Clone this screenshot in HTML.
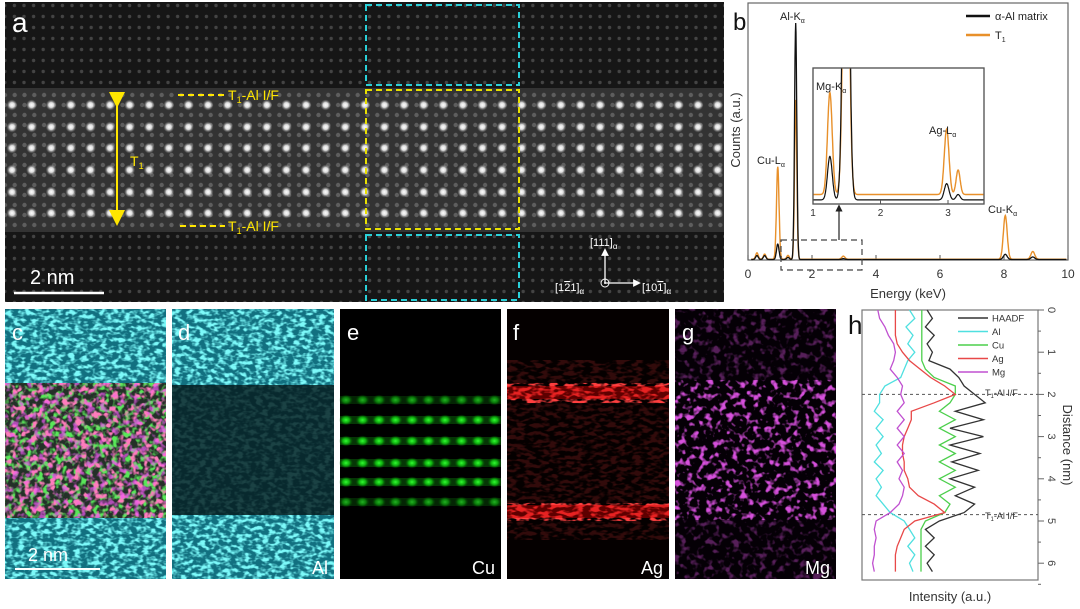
<!DOCTYPE html>
<html><head><meta charset="utf-8"><style>
html,body{margin:0;padding:0;background:#fff}
svg{display:block}
text{font-family:"Liberation Sans",Arial,sans-serif}
</style></head><body>
<svg id="fig" width="1080" height="609" viewBox="0 0 1080 609" xmlns="http://www.w3.org/2000/svg">
<defs>
<radialGradient id="gdot"><stop offset="0" stop-color="#fff"/><stop offset="0.45" stop-color="#eee" stop-opacity="0.9"/><stop offset="1" stop-color="#888" stop-opacity="0"/></radialGradient>
<pattern id="lat" width="9.6" height="11" patternUnits="userSpaceOnUse"><circle cx="4.8" cy="5.5" r="1.7" fill="#444"/></pattern>
<pattern id="dot2" x="0" y="0" width="9.8" height="10" patternUnits="userSpaceOnUse"><circle cx="4.9" cy="5" r="2.2" fill="#7a7a7a"/></pattern>
<radialGradient id="ggr"><stop offset="0" stop-color="#3f3"/><stop offset="0.5" stop-color="#1c1" stop-opacity="0.8"/><stop offset="1" stop-color="#060" stop-opacity="0"/></radialGradient>
<filter id="fc" x="0" y="0" width="1" height="1"><feTurbulence type="fractalNoise" baseFrequency="0.16 0.26" numOctaves="2" seed="3"/><feColorMatrix type="matrix" values="0 0 0 0 0.2  0 0 0 0 0.95  0 0 0 0 0.95  4 0 0 0 -1.7"/></filter>
<filter id="fm" x="0" y="0" width="1" height="1"><feTurbulence type="fractalNoise" baseFrequency="0.15" numOctaves="2" seed="7"/><feColorMatrix type="matrix" values="0 0 0 0 0.85  0 0 0 0 0.1  0 0 0 0 0.9  5 0 0 0 -2.6"/></filter>
<filter id="fr" x="0" y="0" width="1" height="1"><feTurbulence type="fractalNoise" baseFrequency="0.12 0.25" numOctaves="2" seed="11"/><feColorMatrix type="matrix" values="0 0 0 0 1  0 0 0 0 0.05  0 0 0 0 0.05  5 0 0 0 -2.2"/></filter>
<filter id="frc" x="0" y="0" width="1" height="1"><feTurbulence type="fractalNoise" baseFrequency="0.16" numOctaves="2" seed="5"/><feColorMatrix type="matrix" values="0 0 0 0 1  0 0 0 0 0.2  0 0 0 0 0.5  5 0 0 0 -2.5"/></filter>
<filter id="fg" x="0" y="0" width="1" height="1"><feTurbulence type="fractalNoise" baseFrequency="0.16" numOctaves="2" seed="9"/><feColorMatrix type="matrix" values="0 0 0 0 0.1  0 0 0 0 0.8  0 0 0 0 0.1  5 0 0 0 -2.4"/></filter>
<clipPath id="insetclip"><rect x="813" y="68" width="171" height="136"/></clipPath>
<clipPath id="aclip"><rect x="5" y="2" width="719" height="300"/></clipPath>
<marker id="ah" markerWidth="8" markerHeight="8" refX="4" refY="4" orient="auto"><path d="M0,0 L8,4 L0,8 z" fill="#ffe600"/></marker>
<marker id="aw" markerWidth="6" markerHeight="6" refX="3" refY="3" orient="auto"><path d="M0,0 L6,3 L0,6 z" fill="#fff"/></marker>
<marker id="ak" markerWidth="6" markerHeight="6" refX="3" refY="3" orient="auto"><path d="M0,0 L6,3 L0,6 z" fill="#222"/></marker>
</defs>
<rect width="1080" height="609" fill="#fff"/>

<g>
<rect x="5" y="2" width="719" height="300" fill="#161616"/>
<rect x="5" y="2" width="719" height="300" fill="url(#lat)"/>
<rect x="5" y="88" width="719" height="144" fill="#333"/>
<rect x="5" y="88" width="719" height="144" fill="url(#dot2)" opacity="0.6"/>
<g id="arows" clip-path="url(#aclip)"></g>
<text x="12" y="32" font-size="28" fill="#fff">a</text>
<rect x="366" y="5" width="153" height="80" fill="none" stroke="#2ad0d8" stroke-width="2" stroke-dasharray="6,4"/>
<rect x="366" y="90" width="153" height="139" fill="none" stroke="#e8e000" stroke-width="2" stroke-dasharray="6,4"/>
<rect x="366" y="235" width="153" height="65" fill="none" stroke="#2ad0d8" stroke-width="2" stroke-dasharray="6,4"/>
<line x1="117" y1="100" x2="117" y2="218" stroke="#ffe600" stroke-width="2" marker-start="url(#ah)" marker-end="url(#ah)"/>
<text x="130" y="166" font-size="14" fill="#ffe600">T<tspan font-size="9" dy="3">1</tspan></text>
<line x1="178" y1="95" x2="225" y2="95" stroke="#ffe600" stroke-width="2" stroke-dasharray="6,4"/>
<text x="228" y="100" font-size="14" fill="#ffe600">T<tspan font-size="9" dy="3">1</tspan><tspan dy="-3">-Al I/F</tspan></text>
<line x1="180" y1="226" x2="225" y2="226" stroke="#ffe600" stroke-width="2" stroke-dasharray="6,4"/>
<text x="228" y="231" font-size="14" fill="#ffe600">T<tspan font-size="9" dy="3">1</tspan><tspan dy="-3">-Al I/F</tspan></text>
<line x1="14" y1="293" x2="104" y2="293" stroke="#fff" stroke-width="2.5"/>
<text x="30" y="284" font-size="20" fill="#fff">2 nm</text>
<g fill="#fff" font-size="11">
<line x1="605" y1="283" x2="605" y2="252" stroke="#fff" stroke-width="1.3" marker-end="url(#aw)"/>
<line x1="605" y1="283" x2="637" y2="283" stroke="#fff" stroke-width="1.3" marker-end="url(#aw)"/>
<circle cx="605" cy="283" r="4" fill="none" stroke="#fff"/><circle cx="605" cy="283" r="1" fill="#fff"/>
<text x="590" y="246">[111]<tspan font-size="8" dy="3">α</tspan></text>
<text x="555" y="291">[1<tspan text-decoration="overline">2</tspan>1]<tspan font-size="8" dy="3">α</tspan></text>
<text x="642" y="291">[10<tspan text-decoration="overline">1</tspan>]<tspan font-size="8" dy="3">α</tspan></text>
</g>
</g>

<g>
<text x="733" y="30" font-size="24" fill="#111">b</text>
<rect x="748" y="3" width="320" height="257" fill="none" stroke="#666" stroke-width="1.2"/>
<g id="bticks" font-size="12" fill="#333"></g>
<text x="908" y="298" font-size="13" text-anchor="middle" fill="#333">Energy (keV)</text>
<text transform="translate(740,130) rotate(-90)" font-size="13" text-anchor="middle" fill="#333">Counts (a.u.)</text>
<path id="bT1" fill="none" stroke="#e8902a" stroke-width="1.4"/>
<path id="bAl" fill="none" stroke="#111" stroke-width="1.3"/>
<rect x="781" y="240" width="81" height="30" fill="none" stroke="#444" stroke-width="1.2" stroke-dasharray="6,4"/>
<line x1="839" y1="240" x2="839" y2="208" stroke="#222" stroke-width="1.2" marker-end="url(#ak)"/>
<rect x="813" y="68" width="171" height="136" fill="#fff" stroke="#555" stroke-width="1.2"/>
<g clip-path="url(#insetclip)">
<path id="iT1" fill="none" stroke="#e8902a" stroke-width="1.4"/>
<path id="iAl" fill="none" stroke="#111" stroke-width="1.2"/>
</g>
<rect x="813" y="68" width="171" height="136" fill="none" stroke="#555" stroke-width="1.2"/>
<g id="iticks" font-size="10" fill="#333"></g>
<g font-size="11" fill="#222">
<text x="780" y="20">Al-K<tspan font-size="7" dy="3">α</tspan></text>
<text x="757" y="164">Cu-L<tspan font-size="7" dy="3">α</tspan></text>
<text x="816" y="90">Mg-K<tspan font-size="7" dy="3">α</tspan></text>
<text x="929" y="134">Ag-L<tspan font-size="7" dy="3">α</tspan></text>
<text x="988" y="213">Cu-K<tspan font-size="7" dy="3">α</tspan></text>
</g>
<g font-size="11" fill="#222">
<line x1="966" y1="16" x2="990" y2="16" stroke="#111" stroke-width="2.5"/>
<text x="995" y="20">α-Al matrix</text>
<line x1="966" y1="35" x2="990" y2="35" stroke="#e8902a" stroke-width="2.5"/>
<text x="995" y="39">T<tspan font-size="7" dy="3">1</tspan></text>
</g>
</g>

<g>
<rect x="5" y="309" width="161" height="270" fill="#127080"/>
<rect x="5" y="309" width="161" height="270" filter="url(#fc)"/>
<rect x="5" y="383" width="161" height="135" fill="#243028"/>
<rect x="5" y="383" width="161" height="135" filter="url(#fg)"/>
<rect x="5" y="383" width="161" height="135" filter="url(#frc)"/>
<rect x="5" y="383" width="161" height="135" filter="url(#fm)" opacity="0.7"/>
<text x="12" y="340" font-size="22" fill="#fff">c</text>
<line x1="15" y1="569" x2="100" y2="569" stroke="#fff" stroke-width="2"/>
<text x="28" y="561" font-size="18" fill="#fff">2 nm</text>
</g>
<g>
<rect x="172" y="309" width="162" height="270" fill="#127080"/>
<rect x="172" y="309" width="162" height="270" filter="url(#fc)"/>
<rect x="172" y="385" width="162" height="130" fill="#061a1c" opacity="0.82"/>
<text x="178" y="340" font-size="22" fill="#fff">d</text>
<text x="328" y="574" font-size="18" fill="#fff" text-anchor="end">Al</text>
</g>
<g>
<rect x="340" y="309" width="161" height="270" fill="#000"/>
<g id="estripes"></g>
<text x="347" y="340" font-size="22" fill="#fff">e</text>
<text x="495" y="574" font-size="18" fill="#fff" text-anchor="end">Cu</text>
</g>
<g>
<rect x="507" y="309" width="162" height="270" fill="#050000"/>
<rect x="507" y="360" width="162" height="180" filter="url(#fr)" opacity="0.18"/>
<rect x="507" y="383" width="162" height="20" filter="url(#fr)"/>
<rect x="507" y="386" width="162" height="13" fill="#c00" opacity="0.45"/>
<rect x="507" y="503" width="162" height="18" filter="url(#fr)"/>
<rect x="507" y="505" width="162" height="13" fill="#c00" opacity="0.45"/>
<text x="513" y="340" font-size="22" fill="#fff">f</text>
<text x="663" y="574" font-size="18" fill="#fff" text-anchor="end">Ag</text>
</g>
<g>
<rect x="675" y="309" width="161" height="270" fill="#050006"/>
<rect x="675" y="309" width="161" height="270" filter="url(#fm)" opacity="0.35"/>
<rect x="675" y="380" width="161" height="140" filter="url(#fm)" opacity="0.85"/>
<text x="682" y="340" font-size="22" fill="#fff">g</text>
<text x="830" y="574" font-size="18" fill="#fff" text-anchor="end">Mg</text>
</g>

<g>
<rect x="862" y="310" width="176" height="270" fill="#fff" stroke="#777" stroke-width="1.2"/>
<g id="hlines"></g>
<g id="hticks" font-size="11" fill="#444"></g>
<text x="848" y="334" font-size="26" fill="#111">h</text>
<text x="950" y="601" font-size="13" text-anchor="middle" fill="#333">Intensity (a.u.)</text>
<text transform="translate(1063,445) rotate(90)" font-size="13" text-anchor="middle" fill="#333">Distance (nm)</text>
<g id="hlegend" font-size="9.5" fill="#333"></g>
<text x="985" y="396" font-size="9" fill="#333">T<tspan font-size="6" dy="2">1</tspan><tspan dy="-2">-Al I/F</tspan></text>
<text x="985" y="519" font-size="9" fill="#333">T<tspan font-size="6" dy="2">1</tspan><tspan dy="-2">-Al I/F</tspan></text>
</g>
</svg>
<script>
var NS="http://www.w3.org/2000/svg";
var bXTicks=[0,2,4,6,8,10];
var peakEnergies=[0.28,0.52,0.93,1.25,1.49,2.98,8.04,8.9];
var peakWidths=[0.04,0.04,0.04,0.04,0.035,0.05,0.06,0.06];
var alMatrixHeights=[1.5,1.5,6,0.8,92,0.3,2,1];
var t1Heights=[2.5,2,36,1.5,62,1.2,17,3];
var insetXTicks=[1,2,3];
var insetPeakEnergies=[1.25,1.49,2.98,3.15];
var insetPeakWidths=[0.035,0.04,0.035,0.03];
var insetAlHeights=[32,400,12,4];
var insetT1Heights=[75,300,48,18];
var insetAlBase=3, insetT1Base=7;
var hDist=[0,0.2,0.4,0.6,0.8,1.0,1.2,1.4,1.6,1.8,2.0,2.2,2.4,2.6,2.8,3.0,3.2,3.4,3.6,3.8,4.0,4.2,4.4,4.6,4.8,5.0,5.2,5.4,5.6,5.8,6.0,6.2];
var hYTicks=[0,1,2,3,4,5,6];
var haadf=[37,40,36,41,37,40,38,50,55,58,64,70,53,69,50,69,50,67,51,66,50,64,53,64,58,44,36,41,36,41,37,40];
var alProf=[27,30,25,29,26,30,26,24,22,13,10,10,7,12,8,12,8,11,7,12,8,11,8,12,16,24,27,30,26,30,27,29];
var cuProf=[34,34,34,34,34,34,34,36,41,53,53,50,44,53,44,53,44,53,44,53,44,53,44,50,47,36,33.5,33.5,33.5,33.5,33.5,33.5];
var agProf=[19,19,19,19,20,23,27,33,39,47,53,41,28,28,26,24,23,23,24,24,26,27,32,41,47,30,24,22,20,19,19,19];
var mgProf=[9,10,13,15,18,19,18,16,20,23,22,24,20,24,20,24,20,24,20,23,21,24,23,21,16,8,7,8,7,7,6,7];
var hSeriesNames=["HAADF","Al","Cu","Ag","Mg"];
var hInterfaces=[2.0,4.85];

function mk(tag,attrs,parent){var e=document.createElementNS(NS,tag);for(var k in attrs)e.setAttribute(k,attrs[k]);if(parent)parent.appendChild(e);return e;}
var arows=document.getElementById('arows');
var rowYs=[105,127,148,170,192,213];
rowYs.forEach(function(y){var g=mk('g',{},arows);


for(var x=12;x<724;x+=19.6){mk('circle',{cx:x,cy:y,r:5.5,fill:'url(#gdot)'},g);}});
var es=document.getElementById('estripes');
[400,420,441,463,482,502].forEach(function(y,i){var g=mk('g',{opacity:(i==0||i==5)?0.7:1},es);


mk('rect',{x:340,y:y-4,width:161,height:8,fill:'#0a5a0a',opacity:0.6},g);
for(var x=346;x<501;x+=16.5){mk('ellipse',{cx:x,cy:y,rx:7,ry:5.5,fill:'url(#ggr)'},g);}});

function bx(e){return 748+e*32;}
function by(v){return 260-v*2.57;}
function spec(e,E,W,H,base){var s=base||0;for(var i=0;i<E.length;i++){s+=H[i]*Math.exp(-0.5*Math.pow((e-E[i])/W[i],2));}return s;}
function pathFrom(x0,x1,step,fx,fy,fv){var d='';for(var e=x0;e<=x1+1e-9;e+=step){d+=(d?'L':'M')+fx(e).toFixed(1)+','+fy(fv(e)).toFixed(1);}return d;}
document.getElementById('bT1').setAttribute('d',pathFrom(0.1,9.95,0.01,bx,by,function(e){return spec(e,peakEnergies,peakWidths,t1Heights,0.3);}));
document.getElementById('bAl').setAttribute('d',pathFrom(0.1,9.95,0.01,bx,by,function(e){return spec(e,peakEnergies,peakWidths,alMatrixHeights,0.2);}));
var bt=document.getElementById('bticks');
bXTicks.forEach(function(t){mk('line',{x1:bx(t),y1:260,x2:bx(t),y2:255,stroke:'#555'},bt);
var tx=mk('text',{x:bx(t),y:278,'text-anchor':'middle'},bt);tx.textContent=t;

});
function ix(e){return 813+(e-1)*67.5;}
function iy(v){return 204-v*1.36;}
document.getElementById('iT1').setAttribute('d',pathFrom(1.0,3.55,0.005,ix,iy,function(e){return spec(e,insetPeakEnergies,insetPeakWidths,insetT1Heights,insetT1Base);}));
document.getElementById('iAl').setAttribute('d',pathFrom(1.0,3.55,0.005,ix,iy,function(e){return spec(e,insetPeakEnergies,insetPeakWidths,insetAlHeights,insetAlBase);}));
var it=document.getElementById('iticks');
insetXTicks.forEach(function(t){mk('line',{x1:ix(t),y1:204,x2:ix(t),y2:200,stroke:'#555'},it);
var tx=mk('text',{x:ix(t),y:216,'text-anchor':'middle'},it);tx.textContent=t;

});

function hx(v){return 862+v*1.76;}
function hy(d){return 310+d*42.2;}
var hl=document.getElementById('hlines');
var hSeries=[haadf,alProf,cuProf,agProf,mgProf];
var hColors=['#333','#4fe0e0','#4ccf4c','#e84848','#c050d0'];
hInterfaces.forEach(function(d){var l=mk('line',{x1:862,x2:1038,y1:hy(d),y2:hy(d),stroke:'#555','stroke-dasharray':'3,3'},hl);

});
hSeries.forEach(function(arr,si){var d='';arr.forEach(function(v,i){d+=(i?'L':'M')+hx(v).toFixed(1)+','+hy(hDist[i]).toFixed(1);});
var p=mk('path',{d:d,fill:'none',stroke:hColors[si],'stroke-width':1.3},hl);

});
var ht=document.getElementById('hticks');
hYTicks.forEach(function(t){mk('line',{x1:1038,x2:1044,y1:hy(t),y2:hy(t),stroke:'#666'},ht);
mk('line',{x1:1038,x2:1041,y1:hy(t+0.5),y2:hy(t+0.5),stroke:'#666'},ht);
var tx=mk('text',{transform:'translate('+1048+','+hy(t)+') rotate(90)','text-anchor':'middle'},ht);tx.textContent=t;

});
var lg=document.getElementById('hlegend');
hSeriesNames.forEach(function(n,i){var y=318+i*13.5;
mk('line',{x1:958,x2:988,y1:y,y2:y,stroke:hColors[i],'stroke-width':1.5},lg);
var tx=mk('text',{x:992,y:y+3.5},lg);tx.textContent=n;

});
</script>
</body></html>
